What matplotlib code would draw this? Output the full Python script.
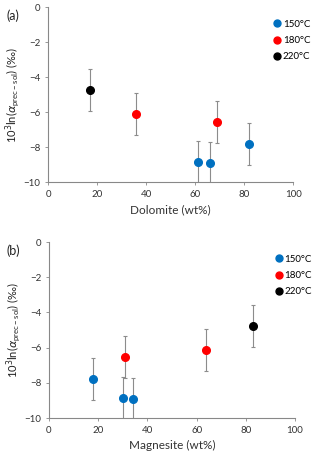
import numpy as np
import matplotlib
matplotlib.use("Agg")
import matplotlib.pyplot as plt
from matplotlib.lines import Line2D

plt.rcParams['font.family'] = ['Lato', 'DejaVu Sans']

temps = ["150°C", "180°C", "220°C"]
colors = ["#0070C0", "#FF0000", "#000000"]

# panel (a): dolomite content
dol_x = {"150°C": [61, 66, 82], "180°C": [36, 69], "220°C": [17]}
dol_y = {"150°C": [-8.85, -8.92, -7.8], "180°C": [-6.1, -6.55], "220°C": [-4.75]}

# panel (b): magnesite content
mag_x = {"150°C": [18, 30, 34], "180°C": [31, 64], "220°C": [83]}
mag_y = {"150°C": [-7.8, -8.85, -8.92], "180°C": [-6.55, -6.13], "220°C": [-4.77]}

err = 1.2
ylabel = r"10$^3$ln($\alpha_{\mathregular{prec-sol}}$) (‰)"

fig = plt.figure(figsize=(3.2, 4.58), dpi=100)
ax_a = fig.add_axes([0.15, 0.6026, 0.766, 0.382])
ax_b = fig.add_axes([0.153, 0.0873, 0.769, 0.384])

panels = [(ax_a, dol_x, dol_y, "Dolomite (wt%)", "(a)"),
          (ax_b, mag_x, mag_y, "Magnesite (wt%)", "(b)")]

for ax, xs, ys, xlab, tag in panels:
    handles = []
    for t, c in zip(temps, colors):
        ax.errorbar(xs[t], ys[t], yerr=err, fmt="o", color=c, ms=5.5,
                    ecolor="#8c8c8c", elinewidth=0.8, capsize=1.5,
                    capthick=0.8, zorder=3)
        handles.append(Line2D([], [], marker="o", ls="", color=c, ms=5, label=t))
    ax.set_xlim(0, 100)
    ax.set_ylim(-10, 0)
    ax.set_xticks(np.arange(0, 101, 20))
    ax.set_yticks(np.arange(-10, 1, 2))
    for s in ["top", "right"]:
        ax.spines[s].set_visible(False)
    for s in ["left", "bottom"]:
        ax.spines[s].set_color("#888888")
        ax.spines[s].set_linewidth(0.8)
    ax.tick_params(direction="out", length=2, width=0.6, color="#888888",
                   labelsize=7, labelcolor="#333333")
    ax.set_xlabel(xlab, fontsize=8.5, color="#333333", labelpad=4)
    ax.set_ylabel(ylabel, fontsize=8, color="#222222", labelpad=1)
    ax.legend(handles=handles, loc="upper left", bbox_to_anchor=(0.9, 0.95),
              frameon=False, fontsize=7, handletextpad=0.05, labelspacing=0.75,
              handlelength=1.0, borderaxespad=0)
    fig.text(0.02, ax.get_position().y1 - 0.005, tag, fontsize=9,
             color="#222222", va="top")

fig.savefig("out.png", dpi=100)
